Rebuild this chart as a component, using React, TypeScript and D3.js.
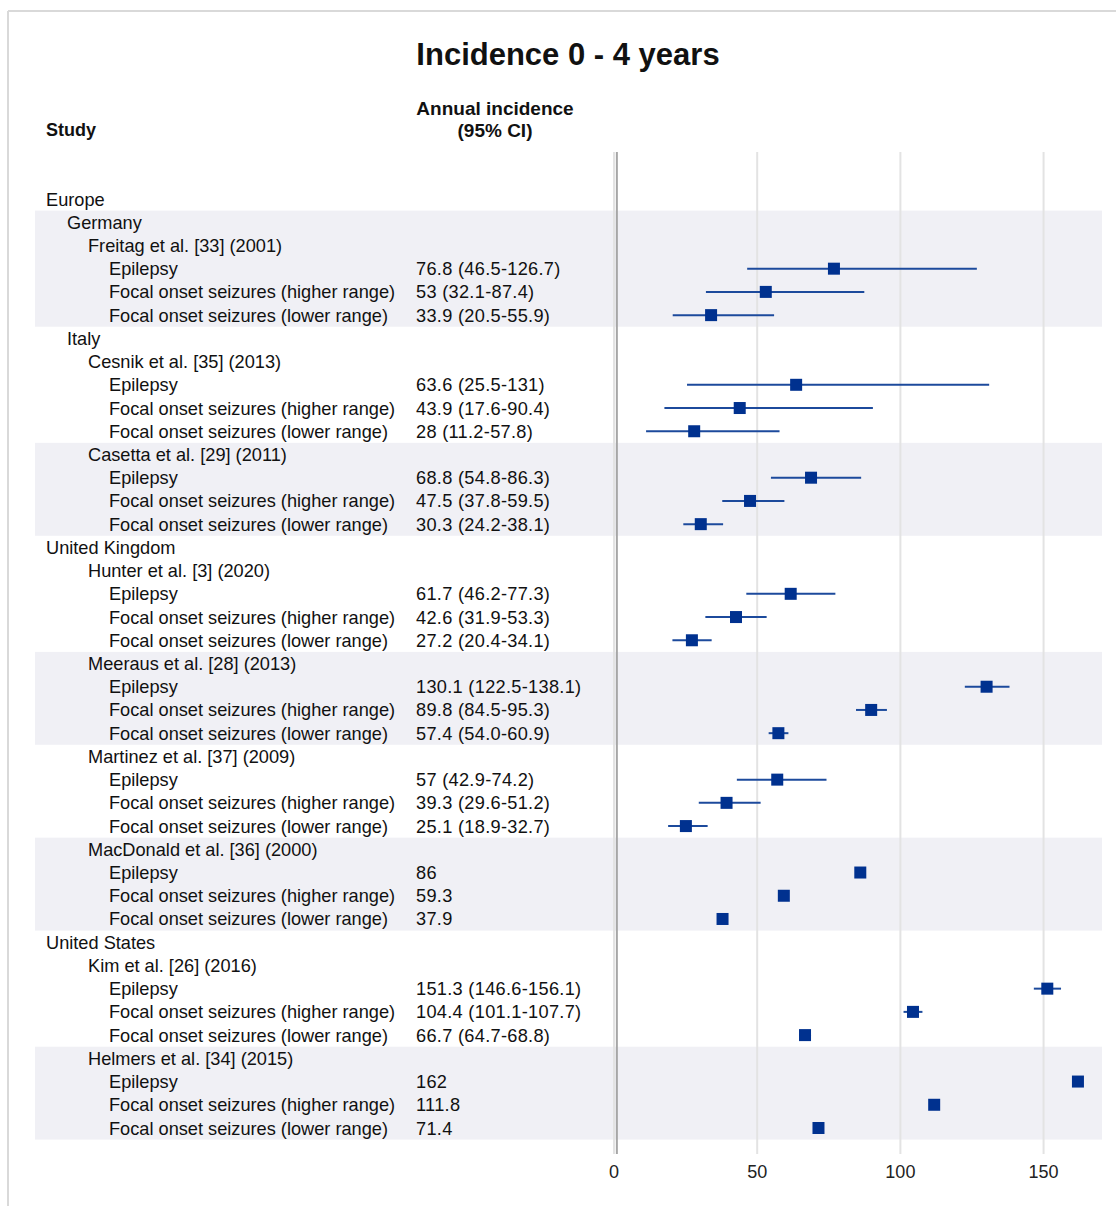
import React from 'react';
import * as d3 from 'd3';

// row labels and indent level (0 = region, 1 = country, 2 = study, 3 = outcome)
const rowLabels = [
    'Europe', 'Germany', 'Freitag et al. [33] (2001)', 'Epilepsy', 'Focal onset seizures (higher range)', 'Focal onset seizures (lower range)',
    'Italy', 'Cesnik et al. [35] (2013)', 'Epilepsy', 'Focal onset seizures (higher range)', 'Focal onset seizures (lower range)',
    'Casetta et al. [29] (2011)', 'Epilepsy', 'Focal onset seizures (higher range)', 'Focal onset seizures (lower range)',
    'United Kingdom', 'Hunter et al. [3] (2020)', 'Epilepsy', 'Focal onset seizures (higher range)', 'Focal onset seizures (lower range)',
    'Meeraus et al. [28] (2013)', 'Epilepsy', 'Focal onset seizures (higher range)', 'Focal onset seizures (lower range)',
    'Martinez et al. [37] (2009)', 'Epilepsy', 'Focal onset seizures (higher range)', 'Focal onset seizures (lower range)',
    'MacDonald et al. [36] (2000)', 'Epilepsy', 'Focal onset seizures (higher range)', 'Focal onset seizures (lower range)',
    'United States', 'Kim et al. [26] (2016)', 'Epilepsy', 'Focal onset seizures (higher range)', 'Focal onset seizures (lower range)',
    'Helmers et al. [34] (2015)', 'Epilepsy', 'Focal onset seizures (higher range)', 'Focal onset seizures (lower range)',
];
const rowLevels = [
    0, 1, 2, 3, 3, 3,
    1, 2, 3, 3, 3,
    2, 3, 3, 3,
    0, 2, 3, 3, 3,
    2, 3, 3, 3,
    2, 3, 3, 3,
    2, 3, 3, 3,
    0, 2, 3, 3, 3,
    2, 3, 3, 3,
];
const ciLabels = [
    '', '', '', '76.8 (46.5-126.7)', '53 (32.1-87.4)', '33.9 (20.5-55.9)',
    '', '', '63.6 (25.5-131)', '43.9 (17.6-90.4)', '28 (11.2-57.8)',
    '', '68.8 (54.8-86.3)', '47.5 (37.8-59.5)', '30.3 (24.2-38.1)',
    '', '', '61.7 (46.2-77.3)', '42.6 (31.9-53.3)', '27.2 (20.4-34.1)',
    '', '130.1 (122.5-138.1)', '89.8 (84.5-95.3)', '57.4 (54.0-60.9)',
    '', '57 (42.9-74.2)', '39.3 (29.6-51.2)', '25.1 (18.9-32.7)',
    '', '86', '59.3', '37.9',
    '', '', '151.3 (146.6-156.1)', '104.4 (101.1-107.7)', '66.7 (64.7-68.8)',
    '', '162', '111.8', '71.4',
];
// estimates (null = header row), lower / upper CI (null = none)
const estimates = [
    null, null, null, 76.8, 53, 33.9,
    null, null, 63.6, 43.9, 28,
    null, 68.8, 47.5, 30.3,
    null, null, 61.7, 42.6, 27.2,
    null, 130.1, 89.8, 57.4,
    null, 57, 39.3, 25.1,
    null, 86, 59.3, 37.9,
    null, null, 151.3, 104.4, 66.7,
    null, 162, 111.8, 71.4,
];
const lowers = [
    null, null, null, 46.5, 32.1, 20.5,
    null, null, 25.5, 17.6, 11.2,
    null, 54.8, 37.8, 24.2,
    null, null, 46.2, 31.9, 20.4,
    null, 122.5, 84.5, 54.0,
    null, 42.9, 29.6, 18.9,
    null, null, null, null,
    null, null, 146.6, 101.1, 64.7,
    null, null, null, null,
];
const uppers = [
    null, null, null, 126.7, 87.4, 55.9,
    null, null, 131, 90.4, 57.8,
    null, 86.3, 59.5, 38.1,
    null, null, 77.3, 53.3, 34.1,
    null, 138.1, 95.3, 60.9,
    null, 74.2, 51.2, 32.7,
    null, null, null, null,
    null, null, 156.1, 107.7, 68.8,
    null, null, null, null,
];
// shaded bands (first and last row index)
const bandStarts = [1, 11, 20, 28, 37];
const bandEnds = [5, 14, 23, 31, 40];

const W = 1116, H = 1206;
const font = '"Liberation Sans", Arial, sans-serif';

export default function App() {
    const rows = rowLabels.map((_, i) => i);
    const y = d3.scalePoint<number>().domain(rows).range([199, 1128]);
    const half = (y(1)! - y(0)!) / 2;
    const x = d3.scaleLinear().domain([0, 170.4]).range([614, 1102]);

    return (
        <svg width={W} height={H} style={{ position: 'absolute', left: 0, top: 0, background: '#fff' }}
            fontFamily={font}>
            {/* frame */}
            <line x1={8} x2={W} y1={11} y2={11} stroke="#d9d9d9" strokeWidth={2} />
            <line x1={8} x2={8} y1={11} y2={H} stroke="#d9d9d9" strokeWidth={2} />

            <text x={568} y={65} textAnchor="middle" fontSize={31} fontWeight="bold" fill="#111">Incidence 0 - 4 years</text>
            <text x={46} y={136} fontSize={18} fontWeight="bold" fill="#111">Study</text>
            <text x={495} y={115} textAnchor="middle" fontSize={19} fontWeight="bold" fill="#111">Annual incidence</text>
            <text x={495} y={137} textAnchor="middle" fontSize={19} fontWeight="bold" fill="#111">(95% CI)</text>

            {bandStarts.map((s, i) => (
                <rect key={'b' + i} x={35} width={1102 - 35} y={y(s)! - half} height={y(bandEnds[i])! - y(s)! + 2 * half} fill="#f0f0f5" />
            ))}

            {x.ticks(4).map(t => (
                <g key={'t' + t}>
                    <line x1={x(t)} x2={x(t)} y1={152} y2={1154} stroke="#e3e3e3" strokeWidth={2} />
                    <text x={x(t)} y={1178} textAnchor="middle" fontSize={18} fill="#222">{t}</text>
                </g>
            ))}
            {/* reference line at 1 */}
            <line x1={x(1)} x2={x(1)} y1={152} y2={1154} stroke="#a6a6a6" strokeWidth={2} />

            {rows.map(i => (
                <g key={i}>
                    <text x={46 + rowLevels[i] * 21} y={y(i)! + 6.5} fontSize={18.2} fill="#111">{rowLabels[i]}</text>
                    <text x={416} y={y(i)! + 6.5} fontSize={18.2} letterSpacing={0.3} fill="#111">{ciLabels[i]}</text>
                    {lowers[i] != null && (
                        <line x1={x(lowers[i]!)} x2={x(uppers[i]!)} y1={y(i)!} y2={y(i)!} stroke="#1c4a9c" strokeWidth={2} />
                    )}
                    {estimates[i] != null && (
                        <rect x={x(estimates[i]!) - 6} y={y(i)! - 6} width={12} height={12} fill="#00318f" />
                    )}
                </g>
            ))}
        </svg>
    );
}
